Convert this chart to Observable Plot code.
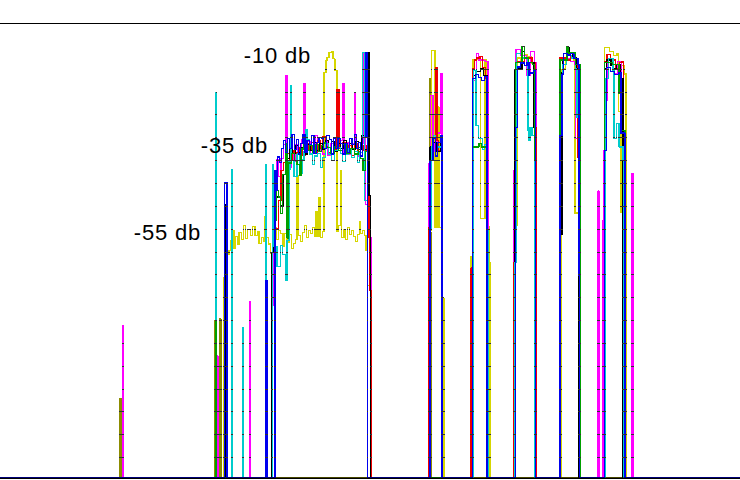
<!DOCTYPE html>
<html><head><meta charset="utf-8">
<script src="https://cdn.jsdelivr.net/npm/d3@7"></script>
<script src="https://cdn.jsdelivr.net/npm/@observablehq/plot@0.6"></script>
<style>html,body{margin:0;padding:0;background:#fff;}</style>
</head><body><div id="chart"></div>
<script>
// Each series: [frequency bin, level in db] steps (value holds until next bin)
const yellow = [[0,-99.5],
[222.8,-55.6],[225,-52.3],[226.7,-50.6],[228.5,-49.7],[230,-47.5],[232,-45.3],[233.5,-49.2],[235,-46.6],[237,-48.3],[238.5,-45.7],[241,-47.3],[243,-44.2],[245,-47.0],[247,-45.1],[250,-46.4],[252,-44.4],[254.5,-46.4],[257,-45.5],[258.5,-48.1],[261,-46.8],[263,-47.7],[264.6,-42.2],[265.4,-46.8],[268,-48.3],[270,-50.3],[272,-46.4],[274,-44.6],[276,-47.3],[278,-45.3],[280,-46.0],[282.5,-48.8],[284,-46.0],[286.5,-47.8],[289,-46.2],[291,-49.2],[293,-48.1],[295,-47.3],[296.6,-33.3],[297.6,-46.4],[300,-47.7],[302,-45.7],[304,-44.2],[306,-46.8],[308,-45.3],[310,-46.0],[312,-44.6],[314,-46.6],[315.6,-41.1],[316.6,-46.6],[318.6,-38.1],[319.8,-46.8],[322,-45.5],[323.3,-10.7],[325.3,-8.1],[326.7,-7.4],[328.7,-6.3],[331,-6.1],[332.3,-7.7],[334.3,-10.3],[336.3,-45.5],[338,-44.2],[340.2,-32.2],[341.2,-46.8],[343.5,-45.1],[345,-47.3],[347,-44.6],[349,-46.2],[351,-45.3],[353,-46.6],[355,-47.7],[357,-46.2],[358.8,-43.3],[360,-46.0],[362,-45.3],[364,-46.4],[365.5,-49.7],[367,-57.3],[370.8,-99.5],
[429.9,-45.3],[431,-5.9],[434.3,-44.6],[436.7,-18.2],[438.3,-44.6],[442,-60.0],[443.3,-99.5],
[470.7,-51.0],[472.7,-7.9],[479.8,-42.7],[484.5,-7.9],[486,-44.4],[488.3,-52.3],[489.3,-99.5],
[513.5,-47.5],[515.7,-44.2],[516.3,-7.5],[520,-8.3],[524,-6.8],[526.7,-7.2],[531,-8.8],[533.3,-20.4],[534.2,-48.1],[535.2,-55.1],[535.7,-99.5],
[560.3,-46.0],[561.7,-10.0],[565,-8.0],[570,-7.0],[573.3,-8.1],[574.5,-41.5],[578.2,-99.5],
[604.2,-5.3],[609,-6.1],[613,-7.0],[616.5,-6.6],[618,-19.3],[619.8,-41.4],[621,-9.2],[623.5,-11.0],[625.7,-99.5],
[740,-99.5]];

const olive = [[0,-99.5],[119.6,-82.1],[120.4,-99.5],[214.6,-65.0],[215.6,-99.5],[219.4,-64.6],[220.3,-99.5],[429,-12.0],[430.2,-45.8],[430.4,-99.5],[740,-99.5]];

const magenta = [[0,-99.5],[122.6,-66.1],[123.2,-99.5],[217,-72.8],[217.6,-99.5],[249,-60.8],[249.6,-99.5],
[270.9,-61.7],[272.5,-45.3],[274.5,-36.5],[276,-29.8],[278,-33.5],[280.5,-29.5],[283,-26.5],[285.3,-11.4],[286.3,-30.0],[289,-31.5],[291,-28.2],[293,-30.2],[295,-26.5],[297,-28.6],[299,-27.1],[301,-25.4],[303.3,-13.1],[304.3,-27.8],[307,-25.8],[309.5,-28.6],[312,-26.7],[314.5,-24.5],[317,-28.0],[319.5,-26.3],[322,-28.6],[325,-25.6],[327.5,-28.9],[330,-26.3],[333,-24.9],[336,-27.8],[338,-25.6],[342.3,-13.1],[343.3,-28.2],[346,-26.0],[348.5,-28.6],[351,-26.3],[354,-15.1],[355,-27.3],[358,-29.0],[360,-26.3],[363.7,-6.5],[365.2,-39.6],[368.3,-38.7],[370,-46.8],[370.5,-99.5],
[428.3,-30.6],[430,-15.8],[432.7,-28.0],[434,-26.0],[436.5,-24.0],[440,-11.0],[441.7,-99.5],
[472,-12.5],[476,-6.6],[478,-8.0],[482.7,-8.1],[485,-8.3],[487.5,-99.5],
[513,-32.2],[515.5,-5.7],[520,-7.0],[526,-11.4],[530,-6.1],[534,-8.5],[536.2,-99.5],
[559.6,-8.0],[567.7,-7.7],[570,-8.3],[574,-9.0],[575.2,-25.2],[577,-29.3],[578,-99.5],
[597.7,-36.7],[598.4,-99.5],[602.5,-43.1],[603.5,-27.8],[605.3,-16.8],[607,-7.7],[610,-9.0],[613,-11.0],[617,-8.3],[621,-14.7],[622.3,-99.5],[631.6,-32.8],[632.3,-99.5],
[740,-99.5]];

const red = [[0,-99.5],
[274.5,-45.0],[278,-38.7],[280.5,-32.2],[283,-30.4],[286,-28.5],[289,-30.0],[291.5,-27.8],[293.3,-28.2],[296.7,-30.0],[299,-27.1],[302,-28.9],[305,-26.3],[308,-27.8],[311,-26.0],[314,-28.4],[317,-25.6],[320,-27.3],[322,-24.7],[325,-26.9],[328,-28.2],[331,-25.8],[334,-27.6],[336.7,-14.4],[338.7,-27.3],[342,-26.0],[345,-28.2],[348,-26.7],[351,-28.9],[354,-26.3],[357,-28.0],[360,-26.7],[363,-27.8],[366,-26.7],[368.5,-46.8],[369.5,-58.4],[370.3,-99.5],
[428.3,-44.6],[429.5,-27.8],[433,-25.0],[435,-9.6],[436.7,-25.6],[438,-27.8],[441.6,-99.5],
[470.7,-53.5],[472,-10.0],[474,-8.0],[476,-7.5],[478,-7.7],[479.5,-7.2],[482,-9.6],[485,-12.0],[487,-48.6],[487.4,-99.5],
[513.3,-52.3],[516,-8.3],[524,-7.5],[531.7,-8.5],[534.5,-22.6],[535.3,-99.5],
[559.5,-7.5],[565,-8.0],[570,-7.0],[575,-8.5],[576.3,-16.4],[577.3,-29.3],[579.2,-56.8],[580,-99.5],
[604,-8.3],[606.7,-6.8],[610,-8.0],[615,-10.0],[619,-8.5],[621.7,-8.3],[623,-28.2],[624.5,-99.5],
[740,-99.5]];

const black = [[0,-99.5],[225.6,-39.6],[226.2,-99.5],
[271.7,-50.0],[272.5,-42.0],[275,-38.0],[280,-39.8],[283,-33.0],[286,-29.5],[289,-27.5],[292,-28.5],[295,-26.7],[298,-28.2],[301,-27.1],[304,-28.6],[307,-26.5],[310,-27.8],[313,-26.0],[316,-27.8],[319,-26.3],[322,-27.6],[325,-25.6],[328,-27.1],[331,-25.8],[334,-28.0],[337,-26.3],[340,-27.3],[343,-25.6],[346,-27.8],[349,-26.3],[352,-27.6],[355,-25.8],[358,-27.6],[361.7,-24.5],[364,-27.6],[367,-6.3],[368.3,-37.6],[370,-99.5],
[429.7,-27.0],[433,-26.0],[436,-28.0],[440,-25.0],[441.5,-99.5],
[472.3,-46.2],[473,-11.4],[476,-10.5],[480,-10.0],[483,-11.4],[486.3,-99.5],
[514.5,-10.0],[521.7,-6.1],[524,-7.5],[528,-8.5],[533.3,-22.8],[534.5,-30.0],[535,-99.5],
[559.3,-46.2],[561.5,-10.7],[562.3,-7.9],[566.7,-5.3],[569,-6.5],[572,-7.5],[576,-10.0],[578.5,-99.5],
[604,-10.0],[606,-8.0],[610.5,-9.2],[612.5,-10.0],[616,-9.0],[620,-12.0],[622.5,-99.5],
[740,-99.5]];

const cyan = [[0,-99.5],[215.6,-15.1],[216.2,-99.5],[231.4,-32.0],[232,-99.5],[242.4,-66.5],[243,-99.5],[265.4,-30.9],[266,-99.5],
[272,-30.9],[273.2,-48.8],[276.7,-53.2],[280,-48.6],[282,-50.5],[285,-56.2],[286.7,-47.5],[288.3,-30.2],[289.6,-32.0],[290.2,-13.6],[291,-30.0],[293.5,-33.5],[296.7,-28.5],[299,-32.8],[301.5,-29.8],[303.5,-28.0],[305,-23.2],[306.7,-25.4],[309,-28.6],[312,-30.9],[314,-29.0],[317,-28.5],[320,-31.5],[322,-29.3],[325,-26.3],[328,-28.6],[331,-30.0],[334,-27.8],[337,-27.1],[340,-28.5],[342,-30.2],[345,-28.6],[348,-27.3],[351,-29.3],[354,-28.0],[357,-30.4],[359,-28.2],[361.9,-6.3],[364,-38.7],[367.2,-99.5],
[429.7,-45.0],[431,-27.0],[433,-24.5],[435,-29.0],[437,-27.0],[441.6,-99.5],
[472.9,-10.3],[475.5,-22.3],[478,-25.2],[482,-27.6],[484,-26.5],[486.7,-45.3],[487.3,-99.5],
[514.5,-52.3],[516,-6.6],[521,-7.5],[527,-11.4],[527.5,-23.4],[528.3,-25.6],[529.3,-22.8],[531.7,-24.5],[534.6,-99.5],
[559.3,-21.4],[562,-9.0],[566,-7.0],[571,-7.5],[575,-10.0],[576.7,-20.6],[578.3,-29.5],[578.8,-99.5],
[604.5,-12.0],[608,-7.7],[612.7,-10.3],[613.5,-25.2],[616,-21.9],[618.5,-27.0],[622.5,-30.0],[623.5,-99.5],
[740,-99.5]];

const green = [[0,-99.5],[215,-65.0],[215.4,-99.5],
[274.5,-43.0],[276,-36.5],[278,-38.0],[280,-41.6],[282,-33.0],[285,-26.3],[286.7,-47.0],[287.7,-30.5],[291,-28.5],[294,-30.0],[296.7,-30.9],[299.3,-33.3],[300.5,-27.5],[303,-26.3],[306,-27.8],[309,-26.7],[312,-28.2],[315,-26.5],[318,-28.0],[321,-26.7],[323,-26.1],[326,-27.1],[330,-28.4],[334,-26.9],[338,-27.8],[342,-26.5],[346,-28.4],[350,-27.3],[354,-28.6],[358,-27.1],[360,-29.5],[362.3,-32.2],[365,-28.0],[367.2,-99.5],
[472,-27.0],[478.5,-26.3],[481,-27.0],[486.7,-99.5],
[514.8,-8.5],[521.7,-5.0],[524,-7.5],[528,-8.5],[532,-9.0],[534,-29.8],[535,-99.5],
[559.3,-8.0],[566.7,-5.0],[568,-6.5],[575,-9.0],[579.7,-99.5],
[604,-8.5],[612,-9.0],[618.7,-15.3],[620.5,-23.4],[624.3,-99.5],
[740,-99.5]];

const blue = [[0,-99.5],[224,-34.8],[226.5,-99.5],[265.7,-56.2],[267,-99.5],
[274.5,-32.2],[275.7,-36.5],[277,-29.2],[279,-30.4],[281,-27.3],[283,-25.6],[285,-28.2],[287,-25.2],[289,-27.3],[291.5,-24.3],[294,-27.6],[296,-25.4],[298,-28.6],[300,-26.3],[302.5,-24.3],[304.5,-28.2],[306.5,-25.6],[309,-26.5],[311,-24.5],[313.5,-28.4],[316,-26.0],[318.5,-24.9],[321,-25.2],[323,-27.3],[326,-24.5],[329,-25.4],[331,-28.6],[333,-25.2],[335,-27.3],[337.5,-25.2],[340,-26.3],[342,-28.6],[344.5,-26.3],[347,-28.2],[349,-25.2],[351.5,-26.5],[354,-24.3],[356,-27.3],[358,-26.0],[360,-29.0],[362,-24.9],[365.7,-6.3],[367.2,-99.5],
[429.5,-30.0],[432.7,-25.0],[435,-29.0],[437,-26.0],[440,-24.5],[441.7,-99.5],
[472,-12.0],[475,-11.2],[478,-11.8],[481,-12.5],[484,-11.6],[486.7,-99.5],
[514.8,-22.8],[517,-9.5],[520,-8.6],[524,-9.2],[526.7,-8.5],[528.3,-11.4],[529,-10.8],[533,-10.2],[534.8,-99.5],
[559.3,-24.5],[561.7,-11.0],[563,-6.6],[567,-6.9],[570,-6.6],[573.3,-7.7],[577.7,-9.0],[578.3,-55.1],[578.8,-99.5],
[604,-27.8],[606,-9.6],[610,-10.5],[614,-11.2],[618,-10.8],[620.5,-24.0],[624.5,-99.5],
[740,-99.5]];

const seriesNames = ["yellow","olive","magenta","red","black","cyan","green","blue"];
const seriesColors = ["#d6d600","#8c8c00","#ff00ff","#ee0000","#000000","#00cccc","#00a000","#0000ee"];
const seriesData = [yellow, olive, magenta, red, black, cyan, green, blue];

const gridLevels = [-5,-10,-15,-20,-25,-30,-35,-40,-45,-50,-55,-60,-65,-70,-75,-80,-85,-90,-95];
const topLevel = [0];
const baseLevel = [-99.5];

const labelText = ["-10 db", "-35 db", "-55 db"];
const labelX = [310.5, 267.5, 200.5];
const labelY = [-7.2, -26.9, -45.8];

const lineMarks = seriesData.map((rows, i) => Plot.line(rows, {
  x: p => p[0], y: p => p[1], curve: "step-after",
  stroke: seriesColors[i], strokeWidth: 1.5, shapeRendering: "crispEdges"
}));

const svg = Plot.plot({
  width: 740, height: 480,
  marginTop: 23, marginBottom: 0, marginLeft: 0, marginRight: 0,
  x: {domain: [0, 740], axis: null},
  y: {domain: [-100, 0], axis: null},
  style: {background: "white", fontFamily: "'Liberation Sans', Arial, sans-serif", letterSpacing: "0.8px"},
  marks: [
    ...lineMarks,
    Plot.ruleY(gridLevels, {stroke: "#333333", strokeWidth: 1, shapeRendering: "crispEdges"}),
    Plot.ruleY(baseLevel, {stroke: "black", strokeWidth: 1.5}),
    Plot.ruleY(topLevel, {stroke: "black", strokeWidth: 1}),
    Plot.text(labelText, {x: (d, i) => labelX[i], y: (d, i) => labelY[i], text: d => d,
      textAnchor: "end", fontSize: 22, fill: "black"})
  ]
});

// Grid ticks only show where they cross a trace: mask the grid with the traces.
const ns = "http://www.w3.org/2000/svg";
const defs = document.createElementNS(ns, "defs");
const mask = document.createElementNS(ns, "mask");
mask.setAttribute("id", "traceMask");
mask.setAttribute("maskUnits", "userSpaceOnUse");
mask.setAttribute("x", 0); mask.setAttribute("y", 0);
mask.setAttribute("width", 740); mask.setAttribute("height", 480);
svg.querySelectorAll('g[aria-label="line"]').forEach(g => {
  const c = g.cloneNode(true);
  c.setAttribute("stroke", "white");
  c.querySelectorAll("[stroke]").forEach(p => p.setAttribute("stroke", "white"));
  mask.appendChild(c);
});
defs.appendChild(mask);
svg.insertBefore(defs, svg.firstChild);
const rules = svg.querySelectorAll('g[aria-label="rule"]');
if (rules.length) rules[0].setAttribute("mask", "url(#traceMask)");

document.getElementById("chart").appendChild(svg);
</script>
</body></html>
